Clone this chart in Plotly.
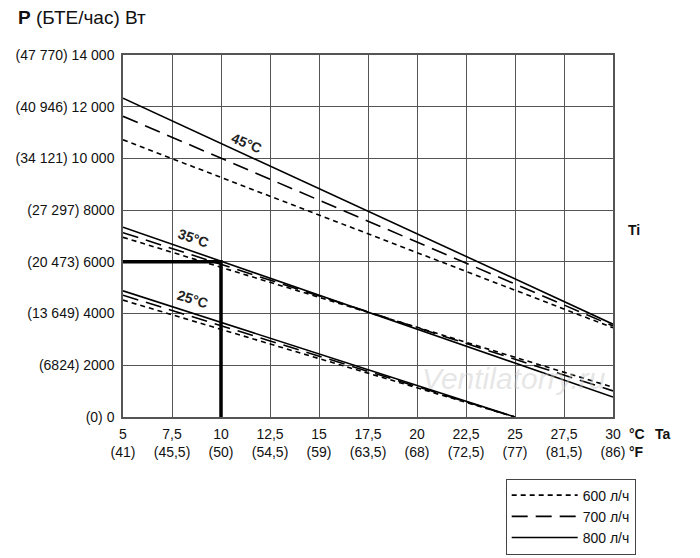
import plotly.graph_objects as go

# ---- data ----
ta_ticks = [5, 7.5, 10, 12.5, 15, 17.5, 20, 22.5, 25, 27.5, 30]
ta_c_labels = ["5", "7,5", "10", "12,5", "15", "17,5", "20", "22,5", "25", "27,5", "30"]
ta_f_labels = ["(41)", "(45,5)", "(50)", "(54,5)", "(59)", "(63,5)", "(68)", "(72,5)", "(77)", "(81,5)", "(86)"]

p_ticks = [0, 2000, 4000, 6000, 8000, 10000, 12000, 14000]
p_labels = ["(0) 0", "(6824) 2000", "(13 649) 4000", "(20 473) 6000", "(27 297) 8000",
            "(34 121) 10 000", "(40 946) 12 000", "(47 770) 14 000"]

x_45 = [5, 30]
p45_600 = [10720, 3450]
p45_700 = [11630, 3520]
p45_800 = [12330, 3590]

x_35 = [5, 30]
p35_600 = [6950, 1150]
p35_700 = [7130, 1010]
p35_800 = [7340, 770]

x_25 = [5, 25]
p25_600 = [4520, 0]
p25_700 = [4710, 0]
p25_800 = [4880, 0]

flows = ["600 л/ч", "700 л/ч", "800 л/ч"]

# example reading: Ta = 10 °C -> P = 6000 W
ex_x = [5, 10, 10]
ex_y = [6000, 6000, 0]

# curve labels (Ti)
ti_labels = ["45°C", "35°C", "25°C"]
ti_label_x = [11.3, 8.6, 8.55]
ti_label_y = [10600, 6940, 4560]
ti_label_angle = [22, 19, 17]

# ---- styles ----
dash_styles = ["5px,4px", "16px,8px", "solid"]
FONT = "Liberation Sans, Arial, sans-serif"
GRID = "#555555"
TXT = "#111111"

fig = go.Figure()

groups = [
    (x_45, [p45_600, p45_700, p45_800], True),
    (x_35, [p35_600, p35_700, p35_800], False),
    (x_25, [p25_600, p25_700, p25_800], False),
]
for xs, series, show in groups:
    for name, ys, dash in zip(flows, series, dash_styles):
        fig.add_trace(go.Scatter(
            x=xs, y=ys, mode="lines", name=name, legendgroup=name,
            showlegend=show,
            line=dict(color="black", width=1.6, dash=dash),
            hoverinfo="skip",
        ))

fig.add_trace(go.Scatter(
    x=ex_x, y=ex_y, mode="lines", showlegend=False,
    line=dict(color="black", width=3.5), hoverinfo="skip",
))

annotations = []
for t, xx, yy, ang in zip(ti_labels, ti_label_x, ti_label_y, ti_label_angle):
    annotations.append(dict(
        x=xx, y=yy, xref="x", yref="y", text=f"<b>{t}</b>", showarrow=False,
        textangle=ang, font=dict(family=FONT, size=14, color="#222"),
    ))

annotations += [
    dict(x=-0.219, y=1.104, xref="paper", yref="paper", xanchor="left", yanchor="middle",
         text="<b>P</b> (БТЕ/час) Вт", showarrow=False,
         font=dict(family=FONT, size=19, color=TXT)),
    dict(x=1.042, y=0.517, xref="paper", yref="paper", xanchor="center", yanchor="middle",
         text="<b>Ti</b>", showarrow=False, font=dict(family=FONT, size=14, color=TXT)),
    dict(x=1.048, y=-0.046, xref="paper", yref="paper", xanchor="center", yanchor="middle",
         text="<b>°C</b>", showarrow=False, font=dict(family=FONT, size=14, color=TXT)),
    dict(x=1.103, y=-0.046, xref="paper", yref="paper", xanchor="center", yanchor="middle",
         text="<b>Ta</b>", showarrow=False, font=dict(family=FONT, size=14, color=TXT)),
    dict(x=1.048, y=-0.098, xref="paper", yref="paper", xanchor="center", yanchor="middle",
         text="<b>°F</b>", showarrow=False, font=dict(family=FONT, size=14, color=TXT)),
    dict(x=0.797, y=0.107, xref="paper", yref="paper", xanchor="center", yanchor="middle",
         text="<i>Ventilatorry.ru</i>", showarrow=False,
         font=dict(family=FONT, size=30, color="rgba(200,200,200,0.45)")),
]

fig.update_layout(
    width=700, height=558,
    margin=dict(l=123, r=87, t=55, b=141, autoexpand=False),
    paper_bgcolor="white", plot_bgcolor="white",
    font=dict(family=FONT, size=14, color=TXT),
    showlegend=True,
    legend=dict(
        x=0.781, y=-0.17, xanchor="left", yanchor="top",
        bordercolor="#444", borderwidth=1, bgcolor="white",
        font=dict(family=FONT, size=14, color=TXT),
        itemwidth=66, tracegroupgap=0,
    ),
    annotations=annotations,
)

fig.update_xaxes(
    range=[5, 30], tickvals=ta_ticks,
    ticktext=[f"{c}<br>{f}" for c, f in zip(ta_c_labels, ta_f_labels)],
    showgrid=True, gridcolor=GRID, gridwidth=1,
    showline=True, linecolor=GRID, linewidth=1.5, mirror=True,
    ticks="", zeroline=False, ticklabelstandoff=3,
    tickfont=dict(family=FONT, size=14, color=TXT),
)
fig.update_yaxes(
    range=[0, 14000], tickvals=p_ticks, ticktext=p_labels,
    showgrid=True, gridcolor=GRID, gridwidth=1,
    showline=True, linecolor=GRID, linewidth=1.5, mirror=True,
    ticks="", zeroline=False, ticklabelstandoff=4,
    tickfont=dict(family=FONT, size=14, color=TXT),
)

fig.write_html("out.html", config={"displayModeBar": False},
               post_script="document.body.style.margin='0px';")
